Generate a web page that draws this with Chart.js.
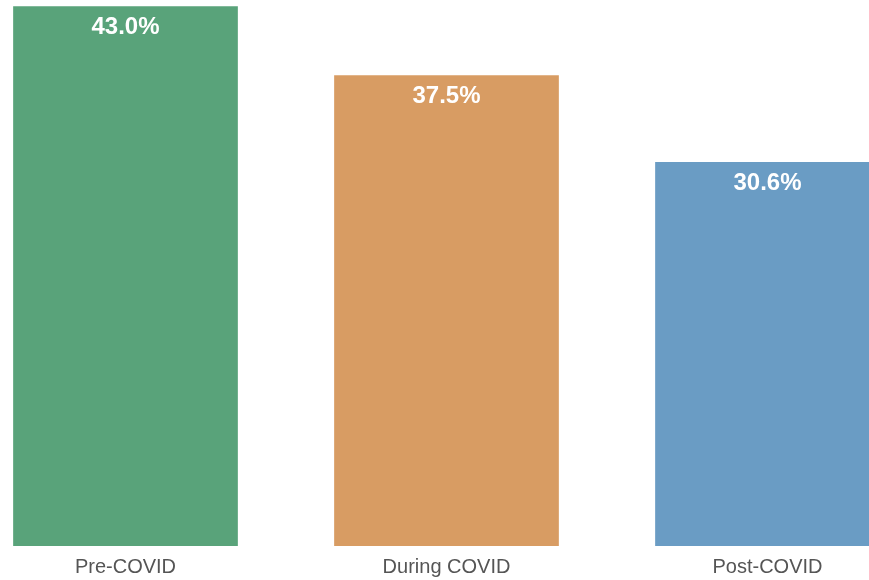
<!DOCTYPE html>
<html>
<head>
<meta charset="utf-8">
<script src="https://cdn.jsdelivr.net/npm/chart.js@4"></script>
<style>
  html,body{margin:0;padding:0;background:#fff;overflow:hidden;}
  #wrap{position:absolute;left:-35px;top:0;width:963px;height:590px;}
</style>
</head>
<body>
<div id="wrap"><canvas id="c" width="963" height="590"></canvas></div>
<script>
// ---------- Datos ----------
const periodos = ['Pre-COVID', 'During COVID', 'Post-COVID'];
const valores  = [43.0, 37.5, 30.6];
const colores  = ['#59a37a', '#d89c63', '#6a9cc4'];

// etiquetas blancas dentro de cada barra
const etiquetas = {
  id:'etiquetas',
  afterDatasetsDraw(chart){
    const ctx = chart.ctx;
    const meta = chart.getDatasetMeta(0);
    ctx.save();
    ctx.fillStyle = '#ffffff';
    ctx.font = 'bold 24px "Liberation Sans", Arial, sans-serif';
    ctx.textAlign = 'center';
    ctx.textBaseline = 'middle';
    meta.data.forEach((bar,i)=>{
      ctx.fillText(valores[i].toFixed(1)+'%', bar.x, bar.y + 21);
    });
    ctx.restore();
  }
};

new Chart(document.getElementById('c'), {
  type:'bar',
  data:{labels:periodos, datasets:[{data:valores, backgroundColor:colores, borderWidth:0,
    barPercentage:0.7, categoryPercentage:1}]},
  options:{
    responsive:false, animation:false,
    layout:{padding:{top:0, bottom:2, left:0, right:0}},
    plugins:{legend:{display:false}, tooltip:{enabled:false}},
    scales:{
      x:{grid:{display:false, drawTicks:false}, border:{display:false},
         ticks:{color:'#555555', padding:9, font:{family:'"Liberation Sans", Arial, sans-serif', size:20}}},
      y:{display:false, min:0, max:43.5}
    }
  },
  plugins:[etiquetas]
});
</script>
</body>
</html>
